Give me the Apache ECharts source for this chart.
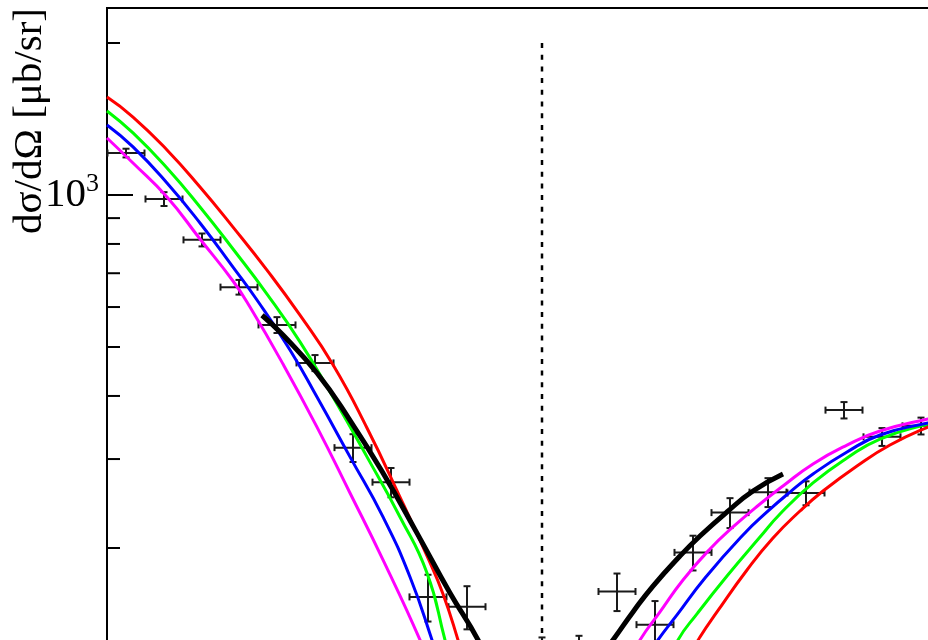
<!DOCTYPE html>
<html><head><meta charset="utf-8">
<script src="https://cdn.jsdelivr.net/npm/echarts@6/dist/echarts.min.js"></script>
<style>html,body{margin:0;padding:0;background:#fff}#c{width:928px;height:640px}</style>
</head><body><div id="c"></div>
<script>
// y-axis tick values (log scale), label only at 10^3
const yTickValues = [2000, 1000, 900, 800, 700, 600, 500, 400, 300, 200];
const yMajorTick = 1000;

// measured data points
const pointX    = [1.9, 5.7, 9.5, 13.2, 17.0, 20.8, 24.6, 28.4, 32.1, 36.0, 43.5, 47.2, 51.0, 54.8, 58.6, 62.3, 66.1, 69.9, 73.7, 77.5, 81.4];
const pointY    = [1211, 982, 815, 657, 553, 465, 316, 270, 160, 153, 120, 121, 164, 141, 196, 235, 258, 257, 375, 332, 349];
const pointXErr = [1.85, 1.85, 1.85, 1.85, 1.85, 1.85, 1.85, 1.85, 1.85, 1.85, 1.85, 1.85, 1.85, 1.85, 1.85, 1.85, 1.85, 1.85, 1.85, 1.85, 1.85];
const pointYErr = [24, 31, 24, 22, 20, 17, 20, 18, 17, 15, 13, 13, 14, 16, 15.5, 16, 17, 14, 14, 13.5, 13.4];

// theory curves (left branch / right branch of the minimum)
const redLeft = [[0,1563],[2.6,1427],[6.0,1228],[9.3,1037],[12.6,864],[16.0,710],[19.3,578],[22.6,461],[26.0,345.6],[29.3,252.3],[32.0,192.8],[33.6,162.2],[35.1,131.5],[35.4,124.5]];
const redRight = [[58.5,124.5],[59.3,133.3],[61.0,149.4],[64.0,180.9],[66.6,209.3],[69.3,236.7],[71.6,259.3],[75.0,290.7],[78.3,319.8],[82.1,347.2],[83.1,351]];
const greenLeft = [[0,1467],[2.6,1327],[6.0,1131],[9.3,947],[12.6,781.8],[16.0,636.7],[19.3,512],[22.6,398],[26.0,303],[29.3,230.4],[32.0,178.4],[33.8,131.5],[34.1,124.5]];
const greenRight = [[56.8,124.5],[57.1,131.5],[59.0,148.1],[62.0,176.0],[65.3,210.2],[67.3,233.5],[70.6,269.0],[74.0,301.4],[77.3,328.7],[82.1,352.0],[83.1,354.5]];
const blueLeft = [[0,1376],[2.6,1245],[6.0,1056],[9.3,880],[12.6,720],[15.0,619.5],[18.3,493.2],[21.0,398],[24.3,303],[27.6,230.4],[30.3,175.2],[32.5,131.5],[32.8,124.5]];
const blueRight = [[54.4,124.5],[55.1,131.5],[57.0,147.4],[59.8,174.4],[63.6,212.2],[66.0,235.7],[68.3,258.1],[70.6,280.2],[74.0,309.8],[77.3,334.8],[82.1,353.6],[83.1,355.5]];
const magentaLeft = [[0,1297],[2.6,1157],[6.0,991],[9.3,818.2],[12.6,675.6],[14.3,600],[17.6,462.7],[21.0,347],[24.3,257],[27.6,189.4],[31.3,131.5],[31.6,124.5]];
const magentaRight = [[52.8,124.5],[53.3,131.5],[55.3,149.4],[57.6,172.8],[60.3,199.1],[62.6,220.1],[65.3,244.4],[67.6,265.3],[70.6,293.4],[74.0,319.8],[77.3,340.9],[82.1,360.1],[83.1,362]];
const blackLeft = [[15.5,578],[17.6,528],[21.0,444],[24.3,358],[27.6,281.5],[31.0,214],[34.3,162.9],[37.1,131.5],[37.4,124.5]];
const blackRight = [[49.7,124.5],[50.6,131.5],[52.6,149.4],[54.6,168.1],[57.3,192.8],[59.3,211.2],[62.0,235.7],[64.6,259.3],[67.6,280.2]];

// vertical dashed marker
const dashedX = 43.5;
const dashedTop = 2000;
const dashedBottom = 100;

const X_MIN = 0, X_MAX = 83.1, Y_MIN = 125.6, Y_MAX = 2346;

const chart = echarts.init(document.getElementById('c'), null, {renderer: 'canvas'});

function curve(data, color, width) {
  return {
    type: 'line', data: data, showSymbol: false, smooth: 0.5, silent: true,
    lineStyle: {color: color, width: width}, z: 3
  };
}

const errData = pointX.map((x, i) => [x, pointY[i], pointXErr[i], pointYErr[i]]);

const option = {
  animation: false,
  backgroundColor: '#ffffff',
  grid: {left: 107, top: 8, width: 831, height: 642, outerBoundsMode: 'none', containLabel: false,
         show: true, borderColor: '#000', borderWidth: 2, backgroundColor: 'transparent'},
  xAxis: {type: 'value', min: X_MIN, max: X_MAX, show: false},
  yAxis: {
    type: 'log', logBase: 10, min: Y_MIN, max: Y_MAX,
    axisLine: {show: false}, axisTick: {show: false}, splitLine: {show: false},
    axisLabel: {
      margin: 8,
      formatter: function (v) { return Math.abs(Math.log10(v) - 3) < 1e-6 ? '{a|10}{b|3}' : ''; },
      rich: {
        a: {fontFamily: 'Liberation Serif', fontSize: 41, color: '#000', lineHeight: 40},
        b: {fontFamily: 'Liberation Serif', fontSize: 26, color: '#000', verticalAlign: 'top', padding: [0, 0, 22, 0]}
      }
    }
  },
  graphic: [{
    type: 'text', x: 30, y: 121, rotation: Math.PI / 2,
    style: {text: 'dσ/dΩ [μb/sr]', font: '41px "Liberation Serif"', fill: '#000', textAlign: 'center', textVerticalAlign: 'middle'}
  }],
  series: [
    {
      type: 'custom', data: yTickValues.map(v => [X_MIN, v]), silent: true, z: 5,
      renderItem: function (params, api) {
        const v = api.value(1);
        const p = api.coord([X_MIN, v]);
        const len = (v === yMajorTick) ? 26 : 13;
        return {type: 'line', shape: {x1: p[0], y1: p[1], x2: p[0] + len, y2: p[1]}, style: {stroke: '#000', lineWidth: 2}};
      }
    },
    {
      type: 'custom', data: errData, silent: true, z: 2,
      renderItem: function (params, api) {
        const x = api.value(0), y = api.value(1), xe = api.value(2), ye = api.value(3);
        const c = api.coord([x, y]);
        const l = api.coord([x - xe, y]), r = api.coord([x + xe, y]);
        const t = api.coord([x, y + ye]), b = api.coord([x, y - ye]);
        const st = {stroke: '#1a1a1a', lineWidth: 2};
        const cap = 3.5;
        return {type: 'group', children: [
          {type: 'line', shape: {x1: l[0], y1: c[1], x2: r[0], y2: c[1]}, style: st},
          {type: 'line', shape: {x1: c[0], y1: t[1], x2: c[0], y2: b[1]}, style: st},
          {type: 'line', shape: {x1: l[0], y1: c[1] - cap, x2: l[0], y2: c[1] + cap}, style: st},
          {type: 'line', shape: {x1: r[0], y1: c[1] - cap, x2: r[0], y2: c[1] + cap}, style: st},
          {type: 'line', shape: {x1: c[0] - cap, y1: t[1], x2: c[0] + cap, y2: t[1]}, style: st},
          {type: 'line', shape: {x1: c[0] - cap, y1: b[1], x2: c[0] + cap, y2: b[1]}, style: st}
        ]};
      }
    },
    {
      type: 'line', data: [[dashedX, dashedTop], [dashedX, dashedBottom]], showSymbol: false, silent: true, z: 3,
      lineStyle: {color: '#000', width: 2.5, type: [5, 6.7]}
    },
    curve(redLeft, '#ff0000', 3), curve(redRight, '#ff0000', 3),
    curve(greenLeft, '#00ff00', 3), curve(greenRight, '#00ff00', 3),
    curve(blueLeft, '#0000ff', 3), curve(blueRight, '#0000ff', 3),
    curve(magentaLeft, '#ff00ff', 3), curve(magentaRight, '#ff00ff', 3),
    curve(blackLeft, '#000000', 5), curve(blackRight, '#000000', 5)
  ]
};
chart.setOption(option);
</script>
</body></html>
